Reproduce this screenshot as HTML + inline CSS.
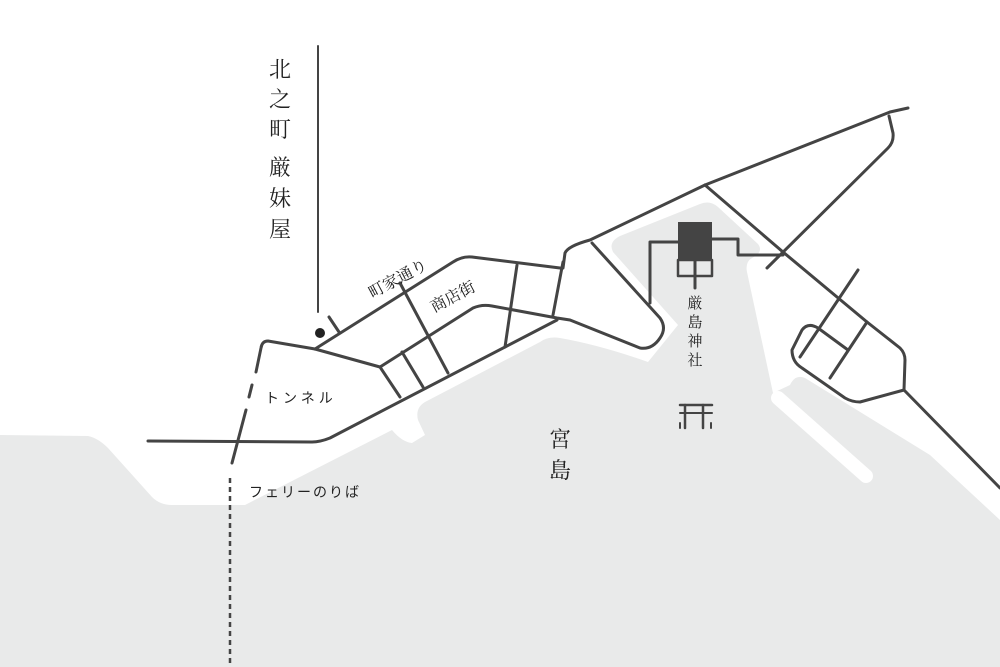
<!DOCTYPE html>
<html><head><meta charset="utf-8"><style>
html,body{margin:0;padding:0;background:#fff;width:1000px;height:667px;overflow:hidden}
svg{display:block}
text{font-family:"Liberation Sans","Noto Sans CJK JP",sans-serif;fill:#222}
.s{font-family:"Liberation Serif","Noto Serif CJK SC",serif}
</style></head><body>
<svg width="1000" height="667" viewBox="0 0 1000 667" xmlns="http://www.w3.org/2000/svg">
<!-- land -->
<path fill="#e9eaea" d="M0,435 L88,436 Q98,438 108,448 L152,497 Q160,505 172,505 L245,505 L392,430 Q402,442 412,443 L425,435 L418,420 Q415,408 425,402 L540,342 Q548,336 560,338 Q600,345 648,362 L678,325 L613,252 Q608,242 620,236 L700,204 Q710,200 718,207 L758,244 Q764,252 752,258 Q745,262 747,272 L773,393 L790,385 Q795,374 805,378 L930,455 L1000,520 L1000,667 L0,667 Z"/>
<path d="M778,398 L866,476" stroke="#fff" stroke-width="14" stroke-linecap="round"/>
<g fill="none" stroke="#444" stroke-width="3" stroke-linejoin="round" stroke-linecap="round">
<line x1="318" y1="46" x2="318" y2="312" stroke-width="2"/>
<line x1="329" y1="317" x2="339" y2="332"/>
<path d="M315,349 L453,262 Q462,256 472,257 L560,268"/>
<path d="M563,268 L565,253 Q568,246 590,240 L705,185 L890,112 L908,108"/>
<path d="M889,116 L893,133 Q894,142 888,148 L767,268"/>
<path d="M315,349 L268,341 Q262,341 261,348 L256,372"/>
<path d="M252,385 L249,397" />
<path d="M246,410 L232,463"/>
<path d="M380,367 L315,349"/>
<path d="M380,367 L400,397"/>
<path d="M380,367 L473,308 Q482,304 492,306 L557,318 L570,320 L640,348 Q652,350 660,338 Q667,328 660,318 L592,243"/>
<path d="M563,262 L553,315"/>
<path d="M148,441 L312,442 Q320,442 330,438 L557,320"/>
<line x1="402" y1="352" x2="423" y2="387"/>
<line x1="400" y1="283" x2="448" y2="373"/>
<line x1="517" y1="265" x2="505" y2="347"/>
<path d="M680,242 L650,242 L650,303"/>
<path d="M712,239 L738,239 L738,255 L783,255"/>
<path d="M705,185 L783,252 L867,322 L900,348 Q905,353 905,360 L904,390 L1000,488"/>
<path d="M904,390 L860,402 Q852,402 845,398 L802,368 Q792,362 792,350 L802,330 Q808,322 818,328 L848,350"/>
<line x1="858" y1="270" x2="800" y2="357"/>
<line x1="867" y1="322" x2="830" y2="378"/>
<rect x="678" y="260" width="34" height="16" stroke-width="2.5"/>
<line x1="695" y1="260" x2="695" y2="288"/>
<line x1="680" y1="405" x2="712" y2="405" stroke-width="2.5"/>
<line x1="680" y1="413" x2="712" y2="413" stroke-width="2"/>
<line x1="685" y1="405" x2="685" y2="428" stroke-width="2.5"/>
<line x1="703" y1="405" x2="703" y2="428" stroke-width="2.5"/>
<line x1="680" y1="423" x2="680" y2="428" stroke-width="2"/>
<line x1="711" y1="423" x2="711" y2="428" stroke-width="2"/>
</g>
<rect x="678" y="222" width="34" height="38" fill="#444"/>
<line x1="230" y1="478" x2="230" y2="667" stroke="#444" stroke-width="2.5" stroke-dasharray="5,4"/>
<circle cx="320" cy="333" r="5" fill="#222"/>
<g font-size="22" text-anchor="middle" class="s">
<text class="s" x="280" y="77">北</text><text class="s" x="280" y="107">之</text><text class="s" x="280" y="137">町</text>
<text class="s" x="280" y="175">厳</text><text class="s" x="280" y="206">妹</text><text class="s" x="280" y="237">屋</text>
<text class="s" x="560" y="447">宮</text><text class="s" x="560" y="478">島</text>
</g>
<g font-size="15" text-anchor="middle">
<text class="s" x="695" y="308">厳</text><text class="s" x="695" y="327">島</text><text class="s" x="695" y="346">神</text><text class="s" x="695" y="365">社</text>
</g>
<text class="s" font-size="16" x="398" y="284" text-anchor="middle" transform="rotate(-28 398 279)">町家通り</text>
<text class="s" font-size="16" x="453" y="302" text-anchor="middle" transform="rotate(-28 453 297)">商店街</text>
<text font-size="14" x="265" y="403" letter-spacing="4">トンネル</text>
<text font-size="14" x="249" y="497" letter-spacing="2">フェリーのりば</text>
</svg>
</body></html>
